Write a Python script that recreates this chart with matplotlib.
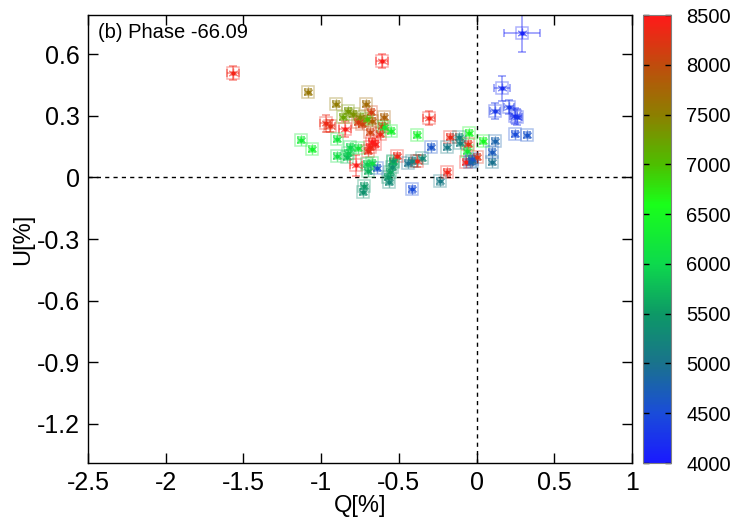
import matplotlib
matplotlib.use("Agg")
import matplotlib.pyplot as plt
import numpy as np
from matplotlib.colors import LinearSegmentedColormap, Normalize
from matplotlib.colorbar import ColorbarBase

plt.rcParams['font.family'] = ['Liberation Sans', 'DejaVu Sans']

# Q[%], U[%], wavelength, errors
q = [-1.568, -0.609, -0.969, -0.943, -0.847, -0.763, -0.738, -0.680, -0.686, -0.622,
     -0.609, -0.673, -0.654, -0.686, -0.698, -0.776, -0.513, -0.383, -0.306, -0.171,
     -0.190, -0.055, -0.068, 0.003,
     -1.085, -0.904, -0.711, -0.596, -0.673, -0.705, -0.828, -0.795, -0.859, -0.750,
     -1.130, -1.059, -0.898, -0.898, -0.815, -0.763, -0.828, -0.834, -0.596, -0.551,
     -0.384, -0.705, -0.673, -0.699, -0.725, -0.731, -0.049, -0.062, 0.041, -0.538,
     -0.538, -0.544, -0.557, -0.570, -0.564, -0.442, -0.416, -0.351, -0.113, -0.190,
     -0.236, -0.030, -0.107, 0.099,
     -0.642, -0.416, -0.293, 0.292, 0.163, 0.118, 0.208, 0.247, 0.260, 0.247,
     0.324, 0.118, 0.099, -0.030, -0.043]
u = [0.507, 0.566, 0.263, 0.249, 0.234, 0.268, 0.259, 0.317, 0.220, 0.210,
     0.249, 0.171, 0.161, 0.146, 0.127, 0.059, 0.102, 0.078, 0.288, 0.195,
     0.024, 0.161, 0.073, 0.098,
     0.415, 0.356, 0.356, 0.293, 0.273, 0.283, 0.322, 0.307, 0.293, 0.293,
     0.180, 0.137, 0.185, 0.102, 0.146, 0.141, 0.117, 0.098, 0.244, 0.224,
     0.205, 0.063, 0.068, 0.029, -0.044, -0.073, 0.215, 0.127, 0.176, 0.073,
     0.078, 0.049, 0.024, 0.000, -0.024, 0.068, 0.078, 0.093, 0.195, 0.146,
     -0.020, 0.078, 0.166, 0.073,
     0.044, -0.059, 0.146, 0.702, 0.434, 0.322, 0.341, 0.298, 0.293, 0.210,
     0.205, 0.176, 0.122, 0.088, 0.073]
wave = [8400, 8450, 8350, 8300, 8450, 8200, 8100, 8150, 8100, 8350,
        8000, 8500, 8450, 8400, 8300, 8450, 8400, 8350, 8400, 8350,
        8400, 8300, 8450, 8250,
        7600, 7550, 7700, 7800, 7800, 7000, 7300, 7350, 7200, 7400,
        6300, 6400, 6200, 6100, 6000, 6200, 5900, 5800, 6300, 6400,
        6400, 5900, 6100, 5700, 5500, 5400, 6500, 6300, 6500, 5800,
        5500, 5400, 5600, 5500, 5300, 5000, 5200, 5300, 5200, 5100,
        5100, 4900, 5200, 5000,
        4600, 4500, 4600, 4100, 4200, 4300, 4300, 4200, 4250, 4500,
        4600, 4800, 4700, 4600, 4800]
big_q = {0: 0.04, 1: 0.04, 2: 0.04, 3: 0.03, 4: 0.04, 15: 0.04, 18: 0.04, 17: 0.03,
         71: 0.118, 72: 0.05, 73: 0.03, 74: 0.03, 75: 0.03, 76: 0.03}
big_u = {0: 0.035, 1: 0.035, 2: 0.04, 3: 0.03, 4: 0.04, 15: 0.05, 18: 0.035, 17: 0.03,
         71: 0.09, 72: 0.06, 73: 0.04, 74: 0.035, 75: 0.04, 76: 0.04}

cb_ticks = [4000, 4500, 5000, 5500, 6000, 6500, 7000, 7500, 8000, 8500]

cmap = LinearSegmentedColormap.from_list('spec', [
    (0.0, (0.10, 0.10, 1.00)),
    (1 / 9, (0.10, 0.30, 0.85)),
    (2 / 9, (0.10, 0.45, 0.55)),
    (3 / 9, (0.05, 0.60, 0.40)),
    (4 / 9, (0.05, 0.85, 0.30)),
    (5.2 / 9, (0.10, 1.00, 0.10)),
    (6 / 9, (0.30, 0.75, 0.00)),
    (7 / 9, (0.55, 0.50, 0.00)),
    (8 / 9, (0.75, 0.30, 0.05)),
    (1.0, (1.00, 0.10, 0.10)),
])
norm = Normalize(4000, 8500)

fig = plt.figure(figsize=(7.47, 5.23), dpi=100)
ax = fig.add_axes([0.1178, 0.1147, 0.7282, 0.8566])

ax.axhline(0, color='black', linestyle=(0, (3, 3)), linewidth=1, zorder=1)
ax.axvline(0, color='black', linestyle=(0, (3, 3)), linewidth=1, zorder=1)

for i in range(len(q)):
    c = cmap(norm(wave[i]))
    eq = big_q.get(i, 0.02)
    eu = big_u.get(i, 0.015)
    ax.errorbar(q[i], u[i], xerr=eq, yerr=eu, fmt='none', ecolor=c,
                alpha=0.5, elinewidth=1.1, capsize=3, capthick=1.1, zorder=2)
    ax.plot(q[i], u[i], marker='s', markersize=8, markerfacecolor='none',
            markeredgecolor=c, markeredgewidth=1.1, alpha=0.35, zorder=3)
    ax.plot(q[i], u[i], marker=(6, 2, 0), markersize=7, color=c,
            markeredgewidth=0.9, alpha=0.55, zorder=4)
    ax.plot(q[i], u[i], marker='o', markersize=2.2, color=c, zorder=5)

ax.set_xlim(-2.5, 1)
ax.set_ylim(-1.39, 0.79)
ax.set_xticks([-2.5, -2, -1.5, -1, -0.5, 0, 0.5, 1])
ax.set_xticklabels(['-2.5', '-2', '-1.5', '-1', '-0.5', '0', '0.5', '1'])
ax.set_yticks([-1.2, -0.9, -0.6, -0.3, 0, 0.3, 0.6])
ax.set_yticklabels(['-1.2', '-0.9', '-0.6', '-0.3', '0', '0.3', '0.6'])
ax.tick_params(direction='in', length=7, width=1, labelsize=18,
               top=True, right=True, pad=6)
for s in ax.spines.values():
    s.set_linewidth(1)
ax.set_xlabel('Q[%]', fontsize=17, labelpad=0)
ax.set_ylabel('U[%]', fontsize=17, labelpad=2)
ax.text(0.018, 0.962, '(b) Phase -66.09', transform=ax.transAxes,
        fontsize=14.5, ha='left', va='center')

cax = fig.add_axes([0.861, 0.1147, 0.0375, 0.8566])
cb = ColorbarBase(cax, cmap=cmap, norm=norm, ticks=cb_ticks)
cb.outline.set_edgecolor('gray')
cax.tick_params(direction='in', length=4, width=1, labelsize=14.5,
                left=True, right=True, pad=11)

fig.savefig('out.png', dpi=100)
